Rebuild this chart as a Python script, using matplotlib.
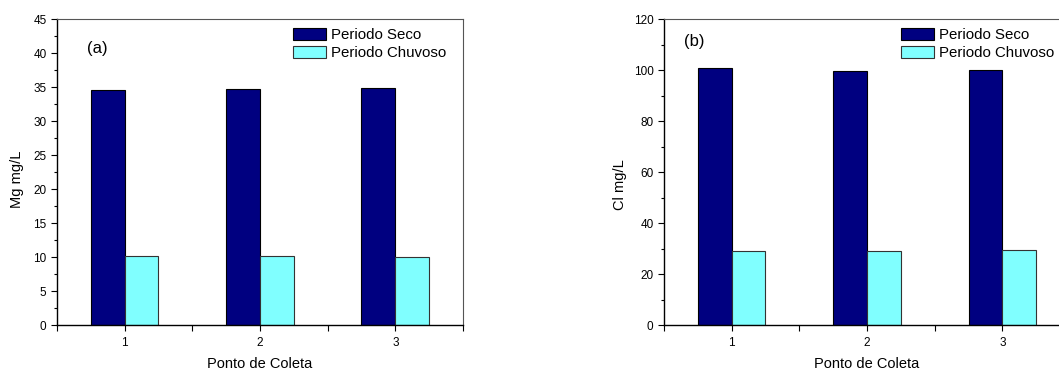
import numpy as np
import matplotlib.pyplot as plt
from matplotlib.ticker import MultipleLocator

plt.rcParams['font.family'] = ['Liberation Sans', 'DejaVu Sans']

pontos = [1, 2, 3]
series = ['Periodo Seco', 'Periodo Chuvoso']
mg_seco = [34.5, 34.7, 34.9]
mg_chuvoso = [10.2, 10.15, 9.95]
cl_seco = [100.7, 99.5, 99.9]
cl_chuvoso = [29.1, 28.9, 29.3]

cores = ['#000080', '#80ffff']
w = 0.25

fig = plt.figure(figsize=(10.59, 3.72), dpi=100)
ax1 = fig.add_axes([0.0538, 0.1263, 0.3834, 0.8226])
ax2 = fig.add_axes([0.627, 0.1263, 0.3834, 0.8226])

def painel(ax, seco, chuvoso, ymax, ystep, ylabel, ylab_xy, letra, letra_xy, leg_x):
    x = np.array(pontos)
    ax.bar(x - w/2, seco, w, color=cores[0], edgecolor='black', linewidth=0.8, label=series[0])
    ax.bar(x + w/2, chuvoso, w, color=cores[1], edgecolor='#333333', linewidth=0.8, label=series[1])
    ax.set_xlim(0.5, 3.5)
    ax.set_ylim(0, ymax)
    ax.set_xticks(pontos)
    ax.xaxis.set_minor_locator(MultipleLocator(0.5))
    ax.yaxis.set_major_locator(MultipleLocator(ystep))
    ax.yaxis.set_minor_locator(MultipleLocator(ystep/2))
    ax.tick_params(axis='both', which='major', direction='out', length=4, width=0.8,
                   labelsize=8.5, top=False, right=False)
    ax.tick_params(axis='x', which='major', pad=4.5)
    ax.tick_params(axis='y', which='minor', direction='out', length=2.5, width=0.8)
    ax.tick_params(axis='x', which='minor', direction='out', length=4, width=0.8)
    for s in ['left', 'bottom']:
        ax.spines[s].set_linewidth(1.0)
    for s in ['top', 'right']:
        ax.spines[s].set_linewidth(0.8)
        ax.spines[s].set_color('#555555')
    ax.set_xlabel('Ponto de Coleta', fontsize=10.5, labelpad=6)
    ax.set_ylabel(ylabel, fontsize=10.5)
    ax.yaxis.set_label_coords(*ylab_xy)
    ax.text(letra_xy[0], letra_xy[1], letra, transform=ax.transAxes, fontsize=12, va='center')
    ax.legend(loc='upper left', bbox_to_anchor=(leg_x, 0.972), frameon=False, fontsize=10.8,
              handlelength=2.2, handleheight=0.85, handletextpad=0.35, labelspacing=0.3,
              borderaxespad=0.0, borderpad=0.0)

painel(ax1, mg_seco, mg_chuvoso, 45, 5, 'Mg mg/L', (-0.081, 0.475), '(a)', (0.074, 0.905), 0.581)
painel(ax2, cl_seco, cl_chuvoso, 120, 20, 'Cl mg/L', (-0.091, 0.46), '(b)', (0.049, 0.925), 0.584)

fig.savefig('out.png', dpi=100)
